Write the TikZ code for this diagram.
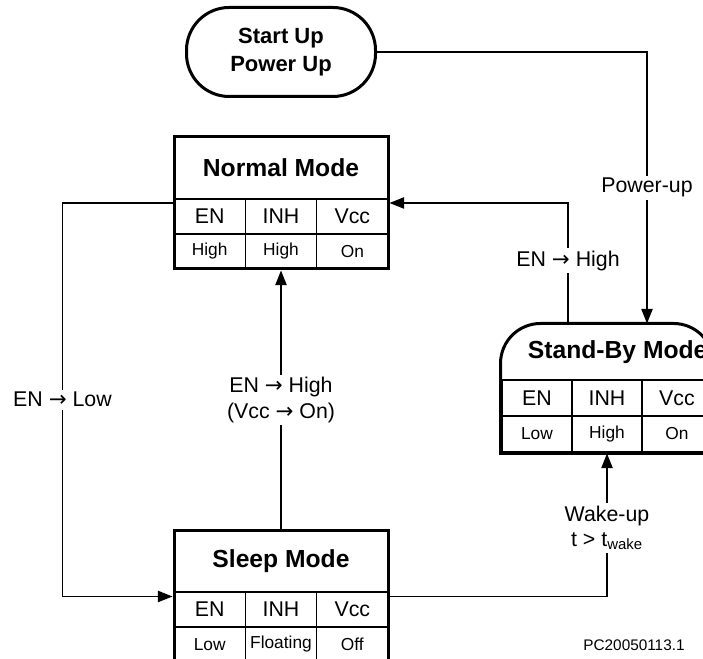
\documentclass[tikz,border=0pt]{standalone}
\usepackage{fontspec}
\setmainfont{Liberation Sans}
\newfontfamily\arrowfont{DejaVu Sans}
\usetikzlibrary{positioning, fit, arrows.meta}
\newcommand{\pxl}{0.75pt}
\newcommand{\goesto}{{\arrowfont →}}

\begin{document}
\begin{tikzpicture}[
    x=0.75pt, y=0.75pt,
    title/.style={inner sep=0pt, outer sep=0pt, minimum width=214*\pxl, minimum height=62*\pxl, font=\fontsize{18.5}{22}\selectfont\bfseries},
    cell/.style={draw, line width=1.1pt, inner sep=0pt, outer sep=0pt, minimum width=71.33*\pxl, minimum height=35*\pxl, font=\fontsize{16}{18}\selectfont},
    val/.style={cell, font=\fontsize{13}{15}\selectfont},
    frame/.style={draw, line width=2.25pt, inner sep=0pt},
    startbox/.style={draw, line width=2.25pt, rounded corners=32pt, minimum width=189*\pxl, minimum height=89*\pxl, align=center, font=\fontsize{16.5}{21.5}\selectfont\bfseries},
    lbl/.style={fill=white, inner sep=2pt, align=center, font=\fontsize{16}{19}\selectfont},
    arrow/.style={-{Triangle[length=11pt, width=8.5pt]}, line width=1.1pt}
]
    \useasboundingbox (0,0) rectangle (703,659);
    \clip (0,0) rectangle (703,659);

    % start
    \node[startbox] (start) at (281,607) {Start Up\\Power Up};

    % normal mode
    \node[title, anchor=north west] (nT) at (174,522) {Normal Mode};
    \node[cell, anchor=north west] (nEN) at (nT.south west) {EN};
    \node[cell, right=0pt of nEN] (nINH) {INH};
    \node[cell, right=0pt of nINH] (nVcc) {Vcc};
    \node[val, below=0pt of nEN] (nENv) {High};
    \node[val, below=0pt of nINH] (nINHv) {High};
    \node[val, below=0pt of nVcc] (nVccv) {On};
    \node[frame, fit=(nT)(nVccv)] (normal) {};

    % stand-by mode
    \node[title, minimum width=210*\pxl, minimum height=55*\pxl, anchor=north west] (sT) at (502,334) {\hspace*{16pt}Stand-By Mode};
    \node[cell, minimum width=70*\pxl, minimum height=36*\pxl, anchor=north west] (sEN) at (sT.south west) {EN};
    \node[cell, minimum width=70*\pxl, minimum height=36*\pxl, right=0pt of sEN] (sINH) {INH};
    \node[cell, minimum width=70*\pxl, minimum height=36*\pxl, right=0pt of sINH] (sVcc) {Vcc};
    \node[val, minimum width=70*\pxl, minimum height=36*\pxl, below=0pt of sEN] (sENv) {Low};
    \node[val, minimum width=70*\pxl, minimum height=36*\pxl, below=0pt of sINH] (sINHv) {High};
    \node[val, minimum width=70*\pxl, minimum height=36*\pxl, below=0pt of sVcc] (sVccv) {On};
    \node[inner sep=0pt, outer sep=1.125pt, fit=(sT)(sVccv)] (stby) {};
    \draw[line width=2.25pt] (stby.south east) -- (stby.south west)
        -- ([yshift=-30pt]stby.north west) arc[start angle=180, end angle=90, radius=30pt]
        -- ([xshift=-30pt]stby.north east) arc[start angle=90, end angle=0, radius=30pt] -- cycle;

    % sleep mode
    \node[title, minimum height=61*\pxl, anchor=north west] (zT) at (174,128) {\raisebox{-3.5pt}{Sleep Mode}};
    \node[cell, anchor=north west] (zEN) at (zT.south west) {EN};
    \node[cell, right=0pt of zEN] (zINH) {INH};
    \node[cell, right=0pt of zINH] (zVcc) {Vcc};
    \node[val, below=0pt of zEN] (zENv) {Low};
    \node[val, below=0pt of zINH] (zINHv) {Floating};
    \node[val, below=0pt of zVcc] (zVccv) {Off};
    \node[frame, fit=(zT)(zVccv)] (sleep) {};

    % transitions
    \draw[arrow] (start.east) -| node[lbl, pos=0.75] {Power-up} ([xshift=30pt]stby.north);
    \draw[arrow] ([xshift=-29.25pt]stby.north) |- node[lbl, pos=0.26] {EN \goesto{} High} (normal.east);
    \draw[arrow] (normal.west) -- ++(-110,0) |- node[lbl, pos=0.25] {EN \goesto{} Low} (sleep.west);
    \draw[arrow] (sleep.north) -- node[lbl] {EN \goesto{} High\\(Vcc \goesto{} On)} (normal.south);
    \draw[arrow] (sleep.east) -| node[lbl, pos=0.74] {Wake-up\\t > t\textsubscript{wake}} (stby.south);

    \node[font=\fontsize{11.5}{14}\selectfont] (ref) at (634,14) {PC20050113.1};
\end{tikzpicture}
\end{document}
